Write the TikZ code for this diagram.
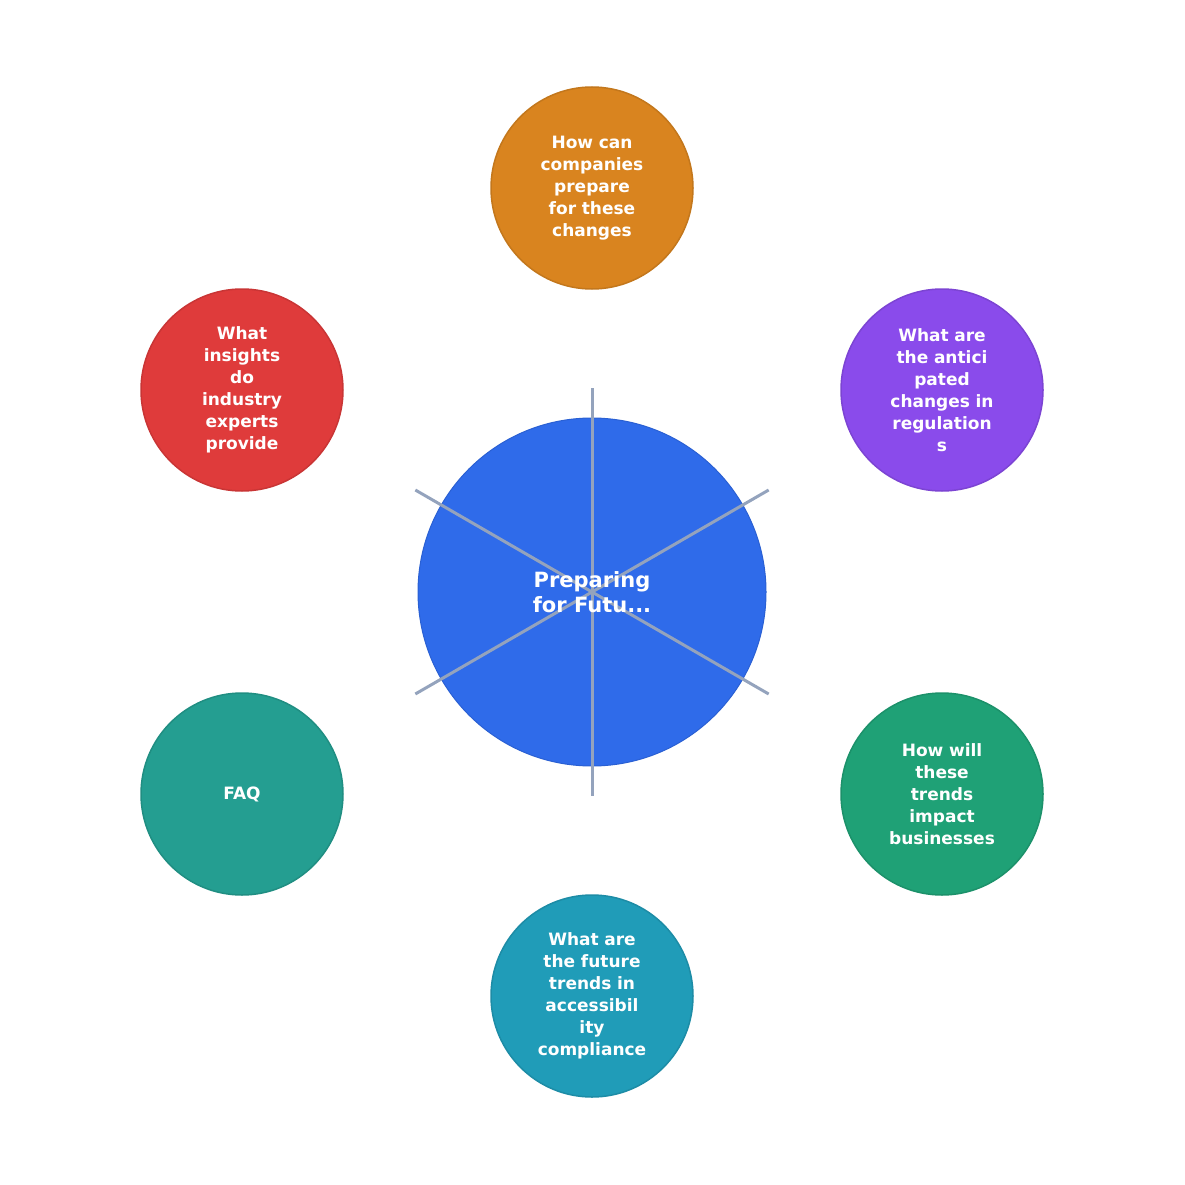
\documentclass[tikz,border=0pt]{standalone}
\usepackage{fontspec}
\setmainfont{DejaVu Sans}
\usetikzlibrary{calc}
\definecolor{corange}{HTML}{D9841F}
\definecolor{cpurple}{HTML}{8A4BEB}
\definecolor{cred}{HTML}{DF3B3B}
\definecolor{cteal}{HTML}{249E91}
\definecolor{cgreen}{HTML}{1FA176}
\definecolor{ccyan}{HTML}{209CB8}
\definecolor{cblue}{HTML}{2F6BEA}
\definecolor{spoke}{HTML}{94A3BD}
\begin{document}
\begin{tikzpicture}[x=1pt,y=-1pt,
  outer/.style={circle,minimum size=202pt,inner sep=0pt,line width=1.5pt,text=white,
    font=\fontsize{17}{22}\selectfont\bfseries,align=center,text width=130pt},
  spk/.style={draw=spoke,line width=3pt}]
\useasboundingbox (0,0) rectangle (1185,1185);
\node[circle,minimum size=348pt,inner sep=0pt,fill=cblue,draw=cblue!90!black,line width=1pt] (c) at (592,592) {};
\foreach \a/\n in {90/s1,30/s2,-30/s3,-90/s4,210/s5,150/s6}
  \coordinate (\n) at ($(592,592)+(\a:204)$);
\node[outer,fill=corange,draw=corange!90!black] (o1) at (592,188) {How can\\companies\\prepare\\for these\\changes};
\node[outer,fill=cpurple,draw=cpurple!90!black] (o2) at (942,390) {What are\\the antici\\pated\\changes in\\regulation\\s};
\node[outer,fill=cgreen,draw=cgreen!90!black] (o3) at (942,794) {How will\\these\\trends\\impact\\businesses};
\node[outer,fill=ccyan,draw=ccyan!90!black] (o4) at (592,996) {What are\\the future\\trends in\\accessibil\\ity\\compliance};
\node[outer,fill=cteal,draw=cteal!90!black] (o5) at (242,794) {FAQ};
\node[outer,fill=cred,draw=cred!90!black] (o6) at (242,390) {What\\insights\\do\\industry\\experts\\provide};
\foreach \n in {s1,s2,s3,s4,s5,s6} \draw[spk] (c.center) -- (\n);
\node[text=white,font=\fontsize{21}{25}\selectfont\bfseries,align=center] (t) at (592,592) {Preparing\\for Futu...};
\end{tikzpicture}
\end{document}
